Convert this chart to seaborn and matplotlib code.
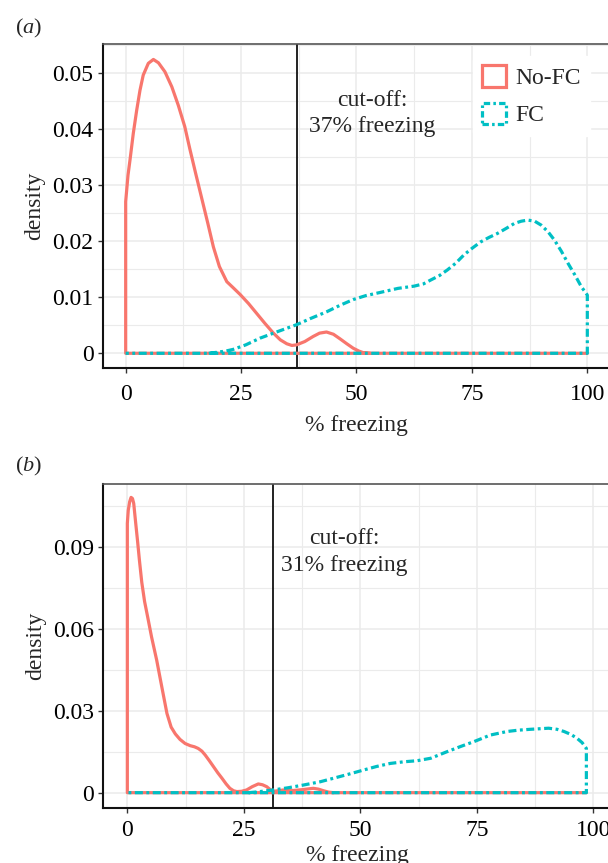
import matplotlib
matplotlib.use("Agg")
import matplotlib.pyplot as plt
import seaborn as sns
from matplotlib.patches import Patch
from matplotlib.ticker import FixedLocator

# ---------------- data ----------------
groups = ["No-FC", "FC"]
colors = {"No-FC": "#F8766D", "FC": "#00BFC4"}

# panel (a): density outlines (x = % freezing, y = density)
a_nofc_x = [100, 0, 0, 0.5, 0.93, 1.65, 2.38, 3.1, 3.8, 4.9, 6.0, 7.1, 8.5, 10.0, 11.4, 12.8,
            13.9, 15.2, 16.5, 17.8, 19.0, 20.3, 21.9, 23.3, 24.8, 26.6, 28.4, 30.2, 32.0, 33.5,
            34.9, 36.0, 37.0, 38.8, 40.6, 42.0, 43.5, 45.0, 46.4, 47.9, 49.3, 50.5, 51.5, 53.0]
a_nofc_y = [0, 0, 0.0271, 0.0318, 0.0345, 0.0393, 0.0434, 0.0470, 0.0497, 0.0518, 0.0525,
            0.0519, 0.0503, 0.0476, 0.0443, 0.0405, 0.0365, 0.0320, 0.0276, 0.0232, 0.0190,
            0.0155, 0.0128, 0.0117, 0.0105, 0.0089, 0.0071, 0.0053, 0.0036, 0.0024, 0.0017,
            0.0014, 0.0015, 0.0021, 0.0030, 0.0036, 0.0038, 0.0034, 0.0026, 0.0017, 0.0009,
            0.0004, 0.0001, 0.0]
a_fc_x = [18, 20, 21.7, 23.3, 26, 29.1, 33, 37, 40, 43.5, 46.5, 49.3, 52, 55.3, 59, 62.5, 64.5,
          66.1, 68, 69.7, 71.5, 73.3, 75.1, 76.9, 78.7, 80.5, 82.4, 84.2, 85.7, 87.1, 88.6, 90,
          91.5, 92.9, 94.4, 95.8, 97.3, 98.7, 100, 100, 0]
a_fc_y = [0, 0.0002, 0.0004, 0.0007, 0.0015, 0.0027, 0.0039, 0.0051, 0.0062, 0.0074, 0.0086,
          0.0096, 0.0103, 0.0109, 0.0116, 0.0120, 0.0124, 0.0131, 0.0139, 0.0149, 0.0161,
          0.0176, 0.0188, 0.0199, 0.0207, 0.0214, 0.0223, 0.0232, 0.0236, 0.0238, 0.0236,
          0.0229, 0.0217, 0.0202, 0.0182, 0.0161, 0.0140, 0.0119, 0.0104, 0, 0]
a_cutoff = 37.2
a_yticks = [0, 0.01, 0.02, 0.03, 0.04, 0.05]
a_yticklabels = ["0", "0.01", "0.02", "0.03", "0.04", "0.05"]

# panel (b)
b_nofc_x = [98.5, 0, 0, 0.2, 0.5, 0.8, 1.1, 1.37, 1.8, 2.2, 2.6, 3.1, 3.7, 4.4, 5.2, 6.3, 7.4,
            8.5, 9.4, 10.3, 11.3, 12.4, 13.5, 14.4, 15.2, 16.0, 16.7, 17.6, 18.5, 19.4, 20.3,
            21.2, 22.0, 22.8, 23.5, 24.5, 25.6, 26.8, 28.1, 29.0, 29.9, 30.6, 31.3, 32.3, 33.5,
            35.6, 37.5, 39.9, 41.0, 42.1, 43.2, 44.2]
b_nofc_y = [0, 0, 0.0986, 0.1034, 0.1065, 0.1081, 0.1077, 0.1059, 0.0986, 0.0920, 0.0850,
            0.0770, 0.0700, 0.0640, 0.0570, 0.0485, 0.0387, 0.0290, 0.0240, 0.0215, 0.0195,
            0.0180, 0.0172, 0.0168, 0.0162, 0.0152, 0.0138, 0.0117, 0.0095, 0.0073, 0.0053,
            0.0032, 0.0016, 0.0007, 0.0004, 0.0005, 0.0010, 0.0022, 0.0032, 0.0029, 0.0022,
            0.0012, 0.0005, 0.0007, 0.0010, 0.0008, 0.0011, 0.0016, 0.0013, 0.0007, 0.0002, 0]
b_fc_x = [26, 28, 31.3, 34.5, 37.8, 41.4, 45.6, 48, 50.7, 53.5, 56.4, 59.3, 62.2, 65.1, 68.6,
          71.5, 74.4, 77.9, 81.5, 84, 86.5, 90.4, 92.2, 93.7, 95.2, 96.5, 97.6, 98.5, 98.5, 0]
b_fc_y = [0, 0.0003, 0.0010, 0.0018, 0.0028, 0.0040, 0.0059, 0.0070, 0.0083, 0.0096, 0.0107,
          0.0113, 0.0117, 0.0126, 0.0150, 0.0169, 0.0187, 0.0211, 0.0224, 0.0229, 0.0232,
          0.0236, 0.0232, 0.0224, 0.0213, 0.0199, 0.0183, 0.0162, 0, 0]
b_cutoff = 31.3
b_yticks = [0, 0.03, 0.06, 0.09]
b_yticklabels = ["0", "0.03", "0.06", "0.09"]

xticks = [0, 25, 50, 75, 100]
xticklabels = ["0", "25", "50", "75", "100"]

# ---------------- style ----------------
sns.set_theme(style="white")
plt.rcParams["font.family"] = ["Liberation Serif", "DejaVu Serif"]
plt.rcParams["mathtext.fontset"] = "custom"
plt.rcParams["mathtext.rm"] = "Liberation Serif"
plt.rcParams["mathtext.it"] = "Liberation Serif:italic"
FS = 17
GRID = "#EBEBEB"
DOTDASH = (0, (2.5, 1.1, 0.9, 1.1))

fig = plt.figure(figsize=(6.08, 8.63), dpi=100)
W, H = 608.0, 863.0


def make_axes(left, right, top, bottom):
    return fig.add_axes([left / W, 1 - bottom / H, (right - left) / W, (bottom - top) / H])


def style_axes(ax, xlim, ylim, yticks, yticklabels, yminor, xpad, xlabelpad):
    ax.set_xlim(*xlim)
    ax.set_ylim(*ylim)
    ax.set_facecolor("white")
    ax.xaxis.set_major_locator(FixedLocator(xticks))
    ax.xaxis.set_minor_locator(FixedLocator([12.5, 37.5, 62.5, 87.5]))
    ax.yaxis.set_major_locator(FixedLocator(yticks))
    ax.yaxis.set_minor_locator(FixedLocator(yminor))
    ax.set_xticklabels(xticklabels)
    ax.set_yticklabels(yticklabels)
    ax.grid(which="major", color=GRID, lw=1.1)
    ax.grid(which="minor", color=GRID, lw=0.8)
    ax.set_axisbelow(True)
    ax.tick_params(axis="both", which="major", labelsize=FS, length=3.5, width=1.0,
                   color="#333333", labelcolor="black", direction="out",
                   bottom=True, left=True)
    ax.tick_params(axis="x", pad=xpad)
    ax.tick_params(axis="y", pad=3)
    ax.tick_params(which="minor", length=0)
    for s in ["left", "bottom"]:
        ax.spines[s].set_color("#111111")
        ax.spines[s].set_linewidth(1.5)
    ax.spines["top"].set_color("#555555")
    ax.spines["top"].set_linewidth(1.2)
    ax.spines["right"].set_visible(False)
    ax.set_xlabel("% freezing", fontsize=FS, labelpad=xlabelpad)
    ax.set_ylabel("density", fontsize=FS, labelpad=5)


def draw(ax, nx, ny, fx, fy, cutoff):
    sns.lineplot(x=nx, y=ny, sort=False, estimator=None, ax=ax, color=colors["No-FC"],
                 lw=2.3, solid_joinstyle="round", solid_capstyle="round")
    sns.lineplot(x=fx, y=fy, sort=False, estimator=None, ax=ax, color=colors["FC"],
                 lw=2.3, linestyle=DOTDASH, dash_capstyle="butt", dash_joinstyle="round")
    ax.axvline(cutoff, color="#111111", lw=1.3, zorder=1.5)


# ---- panel (a)
axa = make_axes(102.6, 610.4, 44.0, 368.0)
draw(axa, a_nofc_x, a_nofc_y, a_fc_x, a_fc_y, a_cutoff)
style_axes(axa, (-5, 105), (-0.00263, 0.05526), a_yticks, a_yticklabels,
           [0.005, 0.015, 0.025, 0.035, 0.045, 0.055], xpad=8.0, xlabelpad=7.0)
axa.text(53.5, 0.0428, "cut-off:\n37% freezing", ha="center", va="center",
         fontsize=FS, linespacing=1.33)
handles = [
    Patch(facecolor="none", edgecolor=colors["No-FC"], lw=2.3, label="No-FC"),
    Patch(facecolor="none", edgecolor=colors["FC"], lw=2.3, linestyle=(0, (2.0, 1.0, 0.8, 1.0)),
          label="FC"),
]
leg = axa.legend(handles=handles, loc="upper left",
                 bbox_to_anchor=(473 / W, 1 - 56 / H), bbox_transform=fig.transFigure,
                 frameon=True, fontsize=FS, handlelength=1.0, handleheight=1.0,
                 handletextpad=0.4, labelspacing=0.58, borderpad=0.4, borderaxespad=0)
leg.get_frame().set_facecolor("white")
leg.get_frame().set_edgecolor("white")
leg.get_frame().set_alpha(1.0)
fig.text(15 / W, 1 - 28 / H, r"($a$)", fontsize=16, ha="left", va="center")

# ---- panel (b)
axb = make_axes(103.1, 612.0, 484.0, 807.7)
draw(axb, b_nofc_x, b_nofc_y, b_fc_x, b_fc_y, b_cutoff)
style_axes(axb, (-5.2, 104), (-0.0055, 0.1130), b_yticks, b_yticklabels,
           [0.015, 0.045, 0.075, 0.105], xpad=5.5, xlabelpad=2.5)
axb.text(46.5, 0.0881, "cut-off:\n31% freezing", ha="center", va="center",
         fontsize=FS, linespacing=1.33)
fig.text(15 / W, 1 - 466 / H, r"($b$)", fontsize=16, ha="left", va="center")

fig.savefig("out.png", dpi=100, facecolor="white")
